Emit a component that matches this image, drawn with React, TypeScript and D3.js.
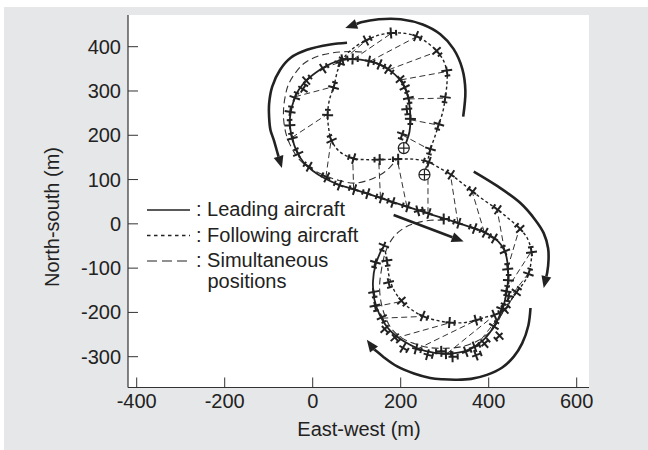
import React from 'react'
import * as d3 from 'd3'

type Pt = [number, number]

const xTicks = [-400, -200, 0, 200, 400, 600]
const yTicks = [400, 300, 200, 100, 0, -100, -200, -300]

// leading aircraft track (m)
const leadPath: Pt[] = [
  [207, 171], [214, 188], [220, 208], [222, 232], [221, 258], [217, 285], [209, 309],
  [195, 329], [176, 346], [154, 359], [125, 368], [93, 372], [67, 370], [42, 362],
  [20, 350], [-13, 325], [-32, 302], [-43, 278], [-50, 252], [-52, 225], [-47, 195],
  [-36, 163], [-21, 139], [0, 120], [25, 104], [55, 90], [90, 79], [150, 60], [210, 40],
  [270, 21], [330, 2], [370, -11], [400, -24], [422, -40], [436, -60], [443, -90],
  [444, -125], [440, -160], [430, -195], [413, -230], [388, -262], [352, -285],
  [305, -293], [255, -287], [210, -267], [175, -240], [152, -205], [140, -170],
  [137, -130], [143, -92], [158, -55],
]

// following aircraft track (m)
const followPath: Pt[] = [
  [254, 111], [258, 128], [262, 145], [267, 167], [277, 195], [286, 223], [296, 254],
  [301, 284], [305, 315], [305, 344], [297, 369], [283, 389], [262, 408], [237, 423],
  [210, 430], [180, 431], [150, 426], [123, 415], [97, 400], [75, 380], [58, 350],
  [48, 310], [38, 280], [34, 248], [36, 218], [42, 190], [60, 164], [91, 148],
  [120, 145], [150, 145], [192, 146], [230, 146], [262, 140], [290, 125], [313, 112],
  [338, 93], [362, 74], [390, 53], [419, 33], [445, 12], [470, -10], [488, -33],
  [497, -62], [496, -88], [491, -111], [480, -133], [464, -153], [450, -173],
  [438, -192], [415, -205], [395, -210], [373, -217], [345, -223], [313, -223],
  [282, -218], [252, -209], [225, -194], [203, -175], [185, -150], [174, -120],
  [169, -85], [165, -62],
]

// long-dash traces
const trailUpper: Pt[] = [
  [112, 388], [85, 389], [45, 386], [10, 378], [-20, 362], [-40, 340], [-55, 315],
  [-62, 290], [-66, 262], [-66, 235], [-61, 205], [-52, 180], [-38, 155], [-22, 137],
  [0, 122], [30, 108], [60, 98], [93, 92], [125, 98], [154, 111], [175, 127], [190, 145],
]
const trailLower: Pt[] = [
  [300, 8], [267, 8], [235, 2], [210, -8], [188, -25], [172, -48], [162, -75],
  [156, -105], [152, -140], [155, -175], [165, -210], [180, -238], [203, -258],
  [230, -270], [262, -279], [300, -281], [340, -277], [375, -264], [402, -245],
  [420, -222], [432, -195], [438, -165],
]

// simultaneous positions: leader / follower
const simLead: Pt[] = [
  [203, 201], [222, 235], [218, 282], [200, 325], [173, 348], [130, 367], [93, 372],
  [70, 371], [25, 352], [-40, 287], [-47, 195], [30, 106], [93, 78], [154, 59],
  [214, 39], [262, 24], [330, 2], [390, -19], [436, -60], [443, -100], [440, -150],
  [430, -190], [413, -230], [370, -277], [305, -293], [237, -283], [188, -258],
  [158, -213], [142, -187],
]
const simFollow: Pt[] = [
  [267, 167], [286, 223], [301, 284], [305, 344], [283, 389], [237, 423], [180, 431],
  [123, 415], [62, 365], [48, 310], [34, 248], [42, 190], [91, 148], [150, 145],
  [192, 146], [262, 140], [313, 112], [362, 74], [419, 33], [470, -10], [497, -62],
  [491, -111], [464, -153], [438, -192], [415, -205], [373, -217], [313, -223],
  [252, -209], [203, -175],
]

// other aircraft symbols
const extraMarks: Pt[] = [
  [214, 257], [210, 306], [154, 359], [-13, 325], [-21, 306], [-51, 255], [-52, 225],
  [-34, 160], [-10, 130], [59, 88], [123, 69], [180, 49], [241, 30], [300, 11],
  [366, -10], [411, -32], [445, -125], [445, -165], [392, -269], [350, -288],
  [320, -300], [290, -288], [263, -296], [373, -296], [207, -281], [165, -239],
  [139, -156], [142, -89], [161, -51], [169, -85], [173, -134], [423, -254],
]

const startLead: Pt = [207, 171]
const startFollow: Pt = [254, 111]

const arrows: Pt[][] = [
  [[342, 242], [347, 300], [340, 350], [320, 395], [290, 428], [250, 450], [200, 462], [150, 462], [110, 455], [74, 442]],
  [[78, 409], [40, 405], [-13, 393], [-50, 375], [-74, 348], [-92, 310], [-99, 272], [-99, 240], [-96, 212], [-88, 188], [-80, 160], [-70, 126]],
  [[184, 20], [343, -40]],
  [[366, 118], [420, 85], [472, 47], [505, 10], [525, -21], [535, -55], [536, -81], [533, -110], [525, -145]],
  [[495, -190], [490, -230], [476, -270], [457, -300], [430, -325], [396, -341], [360, -350], [328, -352], [295, -351], [267, -348], [230, -338], [192, -322], [160, -300], [138, -282], [123, -262]],
]

const legendItems = ['Leading aircraft', 'Following aircraft', 'Simultaneous']

const x = d3.scaleLinear().domain([-400, 600]).range([136.7, 576.7])
const y = d3.scaleLinear().domain([-300, 400]).range([356.7, 46.7])

const ink = '#222'
const font = '"Liberation Sans", Arial, Helvetica, sans-serif'

const smooth = d3
  .line<Pt>()
  .x((d) => x(d[0]))
  .y((d) => y(d[1]))
  .curve(d3.curveCatmullRom.alpha(0.5))

function heading(p: Pt, paths: Pt[][]) {
  let best = Infinity
  let ang = 0
  for (const path of paths) {
    for (let i = 0; i < path.length; i++) {
      const dx = path[i][0] - p[0]
      const dy = path[i][1] - p[1]
      const d = dx * dx + dy * dy
      if (d < best) {
        best = d
        const a = path[Math.max(0, i - 1)]
        const b = path[Math.min(path.length - 1, i + 1)]
        ang = Math.atan2(y(b[1]) - y(a[1]), x(b[0]) - x(a[0]))
      }
    }
  }
  return (ang * 180) / Math.PI
}

const Plane = ({ p, paths }: { p: Pt; paths: Pt[][] }) => (
  <g transform={`translate(${x(p[0])},${y(p[1])}) rotate(${heading(p, paths)})`}>
    <path d="M-5,0H5M1,-5.5V5.5M-4.2,-2.8V2.8" stroke={ink} strokeWidth={2} fill="none" />
  </g>
)

const Arrow = ({ pts }: { pts: Pt[] }) => {
  const tip = pts[pts.length - 1]
  const prev = pts[pts.length - 2]
  const tx = x(tip[0])
  const ty = y(tip[1])
  const a = Math.atan2(ty - y(prev[1]), tx - x(prev[0]))
  const L = 12
  const W = 5
  const bx = tx - L * Math.cos(a)
  const by = ty - L * Math.sin(a)
  const head = `M${tx},${ty}L${bx - W * Math.sin(a)},${by + W * Math.cos(a)}L${bx + W * Math.sin(a)},${by - W * Math.cos(a)}Z`
  const d = pts.length > 2 ? smooth(pts.slice(0, -1).concat([[x.invert(bx), y.invert(by)] as Pt])) : `M${x(pts[0][0])},${y(pts[0][1])}L${bx},${by}`
  return (
    <g>
      <path d={d || ''} fill="none" stroke={ink} strokeWidth={2.6} />
      <path d={head} fill={ink} />
    </g>
  )
}

const Start = ({ p }: { p: Pt }) => (
  <g transform={`translate(${x(p[0])},${y(p[1])})`}>
    <circle r={5.5} fill="white" stroke={ink} strokeWidth={1.2} />
    <path d="M-5.5,0H5.5M0,-5.5V5.5" stroke={ink} strokeWidth={1.2} />
  </g>
)

export default function App() {
  const left = 128
  const right = 589
  const top = 15
  const bottom = 387.5
  return (
    <svg width={648} height={450} style={{ position: 'absolute', left: 0, top: 0 }} fontFamily={font}>
      <rect x={0} y={0} width={648} height={450} fill="white" />
      <rect x={4} y={7} width={644} height={443} fill="#e6e7e8" />
      <rect x={left} y={top} width={right - left} height={bottom - top} fill="white" />

      {/* long dash traces */}
      {[trailUpper, trailLower].map((t, i) => (
        <path key={i} d={smooth(t) || ''} fill="none" stroke="#333" strokeWidth={1.1} strokeDasharray="7,4" />
      ))}

      {/* simultaneous positions */}
      {simLead.map((p, i) => (
        <line
          key={i}
          x1={x(p[0])}
          y1={y(p[1])}
          x2={x(simFollow[i][0])}
          y2={y(simFollow[i][1])}
          stroke="#333"
          strokeWidth={1}
          strokeDasharray="6,3.5"
        />
      ))}

      <path d={smooth(followPath) || ''} fill="none" stroke={ink} strokeWidth={1.4} strokeDasharray="3,2.5" />
      <path d={smooth(leadPath) || ''} fill="none" stroke={ink} strokeWidth={1.8} />

      {simLead.map((p, i) => <Plane key={'l' + i} p={p} paths={[leadPath]} />)}
      {simFollow.map((p, i) => <Plane key={'f' + i} p={p} paths={[followPath]} />)}
      {extraMarks.map((p, i) => (
        <Plane key={'e' + i} p={p} paths={[leadPath, followPath, trailUpper, trailLower]} />
      ))}

      <Start p={startLead} />
      <Start p={startFollow} />

      {arrows.map((a, i) => <Arrow key={i} pts={a} />)}

      {/* legend */}
      <g fontSize={20} fill={ink}>
        <line x1={147} x2={190} y1={210} y2={210} stroke={ink} strokeWidth={1.6} />
        <line x1={147} x2={190} y1={235.5} y2={235.5} stroke={ink} strokeWidth={1.3} strokeDasharray="3.5,3.5" />
        <line x1={147} x2={190} y1={261} y2={261} stroke={ink} strokeWidth={1.2} strokeDasharray="10,5" />
        {legendItems.map((t, i) => (
          <text key={t} x={196} y={216 + i * 25.5}>
            {': ' + t}
          </text>
        ))}
        <text x={207.5} y={288}>positions</text>
      </g>

      {/* axes */}
      <line x1={left} x2={left} y1={top} y2={bottom} stroke="#333" strokeWidth={1.2} />
      <line x1={left} x2={right} y1={bottom} y2={bottom} stroke="#333" strokeWidth={1.2} />
      {xTicks.map((t) => (
        <g key={t}>
          <line x1={x(t)} x2={x(t)} y1={bottom} y2={bottom - 10} stroke="#333" strokeWidth={1} />
          <text x={x(t)} y={408} textAnchor="middle" fontSize={20} fill={ink}>
            {t}
          </text>
        </g>
      ))}
      {yTicks.map((t) => (
        <g key={t}>
          <line x1={left} x2={left + 10} y1={y(t)} y2={y(t)} stroke="#333" strokeWidth={1} />
          <text x={121} y={y(t)} dy="0.35em" textAnchor="end" fontSize={20} fill={ink}>
            {t}
          </text>
        </g>
      ))}
      <text x={359} y={436} textAnchor="middle" fontSize={20} fill={ink}>
        East-west (m)
      </text>
      <text transform="translate(59,217) rotate(-90)" textAnchor="middle" fontSize={20} fill={ink}>
        North-south (m)
      </text>
    </svg>
  )
}
